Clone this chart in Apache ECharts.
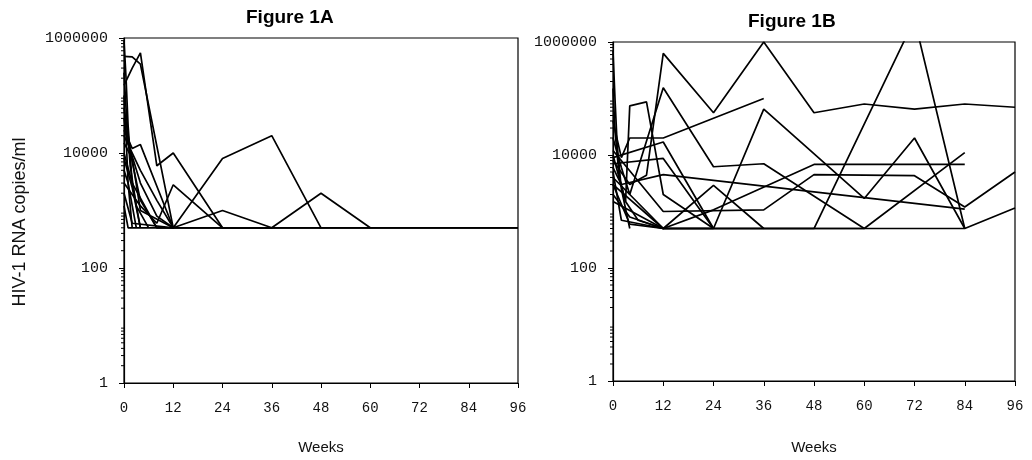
<!DOCTYPE html>
<html>
<head>
<meta charset="utf-8">
<script src="https://cdn.jsdelivr.net/npm/echarts@6/dist/echarts.min.js"></script>
<style>
  html, body { margin: 0; padding: 0; background: #fff; }
  #chart { width: 1032px; height: 460px; }
</style>
</head>
<body>
<div id="chart"></div>
<script>
// Plasma HIV-1 RNA (copies/ml) per patient, as [week, copies] pairs.
// 500 copies/ml is the assay's lower limit of detection.
const LOD = 500;
const weekTicks = [0, 12, 24, 36, 48, 60, 72, 84, 96];

// Figure 1A patients
const a01 = [[0, 150000], [2, 300000], [4, 550000], [8, 6000], [12, 10000], [24, 500], [96, 500]];
const a02 = [[0, 480000], [2, 470000], [4, 350000], [12, 500], [96, 500]];
const a03 = [[0, 25000], [2, 12000], [4, 14000], [12, 500]];
const a04 = [[0, 40000], [1, 15000], [4, 3000], [8, 800], [12, 500]];
const a05 = [[0, 8000], [2, 2500], [4, 500]];
const a06 = [[0, 60000], [2, 7000], [4, 1500], [8, 500]];
const a07 = [[0, 5000], [1, 3000], [2, 500]];
const a08 = [[0, 15000], [2, 8000], [4, 1000], [12, 500]];
const a09 = [[0, 3000], [4, 1200], [8, 600], [12, 2800], [24, 500]];
const a10 = [[0, 10000], [2, 3000], [8, 500], [12, 500], [24, 1000], [36, 500]];
const a11 = [[0, 2000], [2, 600], [12, 500], [24, 8000], [36, 20000], [48, 500]];
const a12 = [[0, 20000], [4, 5000], [8, 1500], [12, 500], [36, 500], [48, 2000], [60, 500]];
const a13 = [[0, 1200], [1, 500], [12, 500]];
const a14 = [[0, 900000], [0.5, 200000], [1, 30000], [2, 3000], [4, 500]];
const a15 = [[0, 100000], [0.5, 20000], [1, 3000], [3, 500]];
const a16 = [[0, 250000], [0.5, 60000], [1.5, 6000], [3, 1200], [6, 500]];

// Figure 1B patients
const b01 = [[0, 8000], [4, 3000], [8, 4400], [12, 630000], [24, 56000], [36, 1000000], [48, 56000], [60, 80000], [72, 65000], [84, 80000], [96, 70000]];
const b02 = [[0, 20000], [2, 6000], [4, 2000], [12, 155000], [24, 6200], [36, 7000], [60, 500]];
const b03 = [[0, 40000], [2, 9000], [4, 20000], [12, 20000], [36, 100000]];
const b04 = [[0, 10000], [3, 1500], [4, 74000], [8, 87000], [12, 2000], [24, 500]];
const b05 = [[0, 6000], [2, 3000], [12, 4500], [84, 1100]];
const b06 = [[0, 2000], [4, 800], [12, 500], [24, 2900], [36, 500]];
const b07 = [[0, 5000], [2, 700], [12, 500], [24, 500], [36, 65000], [60, 1700], [72, 20000], [84, 500]];
const b08 = [[0, 3000], [4, 600], [12, 500], [48, 500], [72, 2500000], [84, 500]];
const b09 = [[0, 4000], [12, 500], [24, 1070], [48, 6800], [84, 6800]];
const b10 = [[0, 12000], [12, 1000], [36, 1070], [48, 4500], [72, 4300], [84, 1200], [96, 5000]];
const b11 = [[0, 1500], [12, 500], [60, 500], [84, 11000]];
const b12 = [[0, 3000], [12, 500], [84, 500], [96, 1150]];
const b13 = [[0, 7000], [12, 8700], [24, 500]];
const b14 = [[0, 9000], [12, 17000], [24, 500]];
const b15 = [[0, 700000], [0.5, 90000], [1, 15000], [2, 2500], [4, 500]];
const b16 = [[0, 150000], [0.5, 25000], [1.5, 4000], [3, 1500], [6, 700], [12, 500]];

const patientsA = [a01, a02, a03, a04, a05, a06, a07, a08, a09, a10, a11, a12, a13, a14, a15, a16];
const patientsB = [b01, b02, b03, b04, b05, b06, b07, b08, b09, b10, b11, b12, b13, b14, b15, b16];

// log-scale minor tick positions: 2..9 x 10^k
const minorTicks = [];
for (let k = 0; k < 6; k++) for (let m = 2; m <= 9; m++) minorTicks.push(m * Math.pow(10, k));

const MONO = '"Liberation Mono", "Courier New", monospace';
const SANS = '"Liberation Sans", Arial, sans-serif';

function xAxisFor(gridIndex, gap) {
  return {
    type: 'value', gridIndex, min: 0, max: 96, interval: 12,
    name: 'Weeks', nameLocation: 'middle', nameGap: gap,
    nameTextStyle: { fontFamily: SANS, fontSize: 15, color: '#111' },
    axisLine: { lineStyle: { color: '#000', width: 1.2 } },
    axisTick: { show: true, length: 5, lineStyle: { color: '#000' } },
    axisLabel: { fontFamily: MONO, fontSize: 14, color: '#111', margin: 18 },
    splitLine: { show: false }
  };
}
function yAxisFor(gridIndex) {
  return {
    type: 'log', logBase: 10, gridIndex, min: 1, max: 1000000, interval: 2,
    axisLine: { show: true, lineStyle: { color: '#000', width: 1.2 } },
    axisTick: { show: true, length: 5, lineStyle: { color: '#000' } },
    axisLabel: { fontFamily: MONO, fontSize: 15, color: '#111', margin: 16,
      formatter: v => String(Math.round(v)) },
    splitLine: { show: false }
  };
}

function patientSeries(list, idx) {
  return list.map(p => ({
    type: 'line', xAxisIndex: idx, yAxisIndex: idx, data: p,
    symbol: 'none', clip: true, silent: true,
    lineStyle: { color: '#000', width: 1.7 }
  }));
}
function minorTickSeries(idx) {
  return {
    type: 'custom', xAxisIndex: idx, yAxisIndex: idx, silent: true,
    data: minorTicks.map(v => [0, v]),
    renderItem: (params, api) => {
      const p = api.coord([0, api.value(1)]);
      return { type: 'line', shape: { x1: p[0] - 3, y1: p[1], x2: p[0], y2: p[1] },
        style: { stroke: '#000', lineWidth: 1 } };
    }
  };
}

const chart = echarts.init(document.getElementById('chart'), null, { renderer: 'canvas' });
chart.setOption({
  backgroundColor: '#fff',
  animation: false,
  title: [
    { text: 'Figure 1A', left: 241, top: 3,
      textStyle: { fontFamily: SANS, fontSize: 19, fontWeight: 'bold', color: '#000' } },
    { text: 'Figure 1B', left: 743, top: 7,
      textStyle: { fontFamily: SANS, fontSize: 19, fontWeight: 'bold', color: '#000' } }
  ],
  // shared y-axis title for both panels
  graphic: [{
    type: 'text', x: 20, y: 222, rotation: Math.PI / 2,
    style: { text: 'HIV-1 RNA copies/ml', fontFamily: SANS, fontSize: 18, fill: '#111',
      align: 'center', verticalAlign: 'middle' }
  }],
  grid: [
    { left: 124, right: 514, top: 38, bottom: 77, show: true, borderColor: '#000', borderWidth: 1.2 },
    { left: 613, right: 17, top: 42, bottom: 75, show: true, borderColor: '#000', borderWidth: 1.2 }
  ],
  xAxis: [xAxisFor(0, 57), xAxisFor(1, 59)],
  yAxis: [yAxisFor(0), yAxisFor(1)],
  series: [
    ...patientSeries(patientsA, 0),
    ...patientSeries(patientsB, 1),
    minorTickSeries(0),
    minorTickSeries(1)
  ]
});
</script>
</body>
</html>
